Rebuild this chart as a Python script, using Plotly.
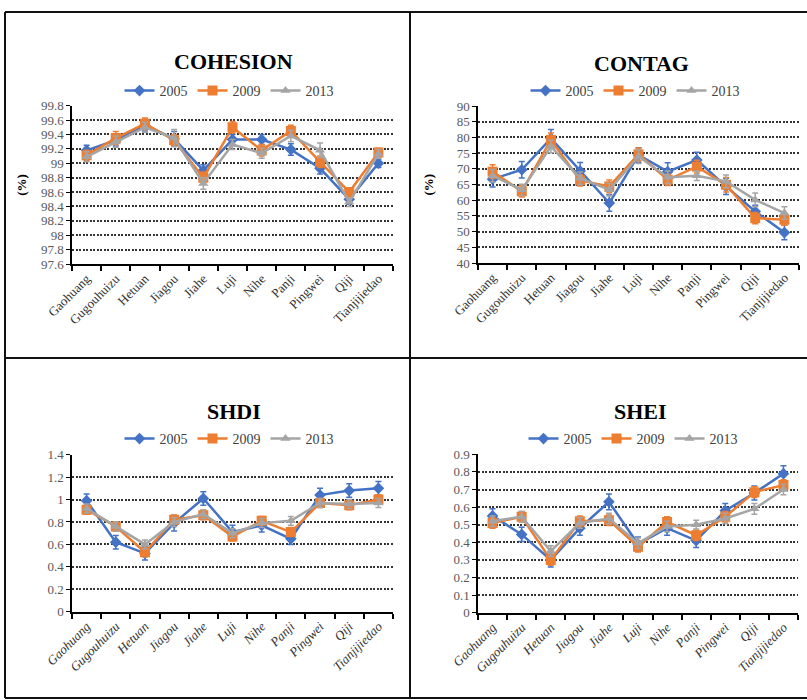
import plotly.graph_objects as go

W, H = 807, 700

sites = ["Gaohuang", "Gugouhuizu", "Hetuan", "Jiagou", "Jiahe", "Luji",
         "Nihe", "Panji", "Pingwei", "Qiji", "Tianjijiedao"]
years = ["2005", "2009", "2013"]

# COHESION (%)
cohesion_2005 = [99.18, 99.32, 99.53, 99.34, 98.90, 99.33, 99.33, 99.19, 98.93, 98.50, 99.00]
cohesion_2009 = [99.11, 99.35, 99.55, 99.32, 98.80, 99.50, 99.18, 99.45, 99.02, 98.60, 99.15]
cohesion_2013 = [99.09, 99.30, 99.50, 99.35, 98.72, 99.26, 99.14, 99.38, 99.18, 98.46, 99.13]
cohesion_err_2005 = [0.07, 0.08, 0.08, 0.10, 0.08, 0.07, 0.07, 0.08, 0.08, 0.07, 0.06]
cohesion_err_2009 = [0.07, 0.09, 0.08, 0.08, 0.08, 0.08, 0.08, 0.08, 0.08, 0.06, 0.06]
cohesion_err_2013 = [0.07, 0.08, 0.07, 0.12, 0.08, 0.07, 0.07, 0.08, 0.10, 0.06, 0.06]

# CONTAG (%)
contag_2005 = [66.7, 69.7, 79.7, 69.3, 59.1, 74.4, 69.1, 72.8, 64.4, 56.4, 49.7]
contag_2009 = [69.1, 62.8, 79.2, 66.3, 64.4, 74.6, 66.5, 70.7, 64.9, 54.3, 53.8]
contag_2013 = [67.8, 63.3, 77.1, 67.0, 63.3, 73.9, 67.3, 67.8, 66.0, 60.1, 55.9]
contag_err_2005 = [2.5, 2.6, 2.8, 2.7, 2.6, 2.3, 2.8, 2.5, 2.6, 2.0, 2.3]
contag_err_2009 = [2.2, 1.8, 2.2, 1.8, 2.0, 2.0, 1.8, 2.0, 2.3, 1.8, 1.8]
contag_err_2013 = [2.0, 1.8, 2.0, 2.0, 2.0, 2.2, 2.0, 1.5, 2.0, 2.2, 2.0]

# SHDI
shdi_2005 = [0.99, 0.62, 0.52, 0.79, 1.01, 0.71, 0.77, 0.65, 1.04, 1.08, 1.10]
shdi_2009 = [0.91, 0.76, 0.53, 0.82, 0.86, 0.67, 0.81, 0.71, 0.97, 0.95, 1.00]
shdi_2013 = [0.92, 0.76, 0.60, 0.80, 0.87, 0.70, 0.79, 0.81, 0.97, 0.96, 0.97]
shdi_err_2005 = [0.06, 0.06, 0.06, 0.07, 0.06, 0.06, 0.06, 0.05, 0.06, 0.06, 0.06]
shdi_err_2009 = [0.04, 0.04, 0.04, 0.04, 0.04, 0.04, 0.04, 0.04, 0.04, 0.04, 0.04]
shdi_err_2013 = [0.04, 0.04, 0.04, 0.04, 0.04, 0.04, 0.04, 0.04, 0.04, 0.04, 0.04]

# SHEI
shei_2005 = [0.55, 0.445, 0.30, 0.48, 0.63, 0.39, 0.48, 0.41, 0.58, 0.68, 0.79]
shei_2009 = [0.51, 0.545, 0.30, 0.52, 0.525, 0.375, 0.515, 0.44, 0.545, 0.685, 0.725]
shei_2013 = [0.52, 0.545, 0.35, 0.51, 0.535, 0.395, 0.49, 0.50, 0.535, 0.59, 0.70]
shei_err_2005 = [0.04, 0.04, 0.04, 0.04, 0.045, 0.04, 0.04, 0.04, 0.04, 0.04, 0.045]
shei_err_2009 = [0.03, 0.03, 0.03, 0.03, 0.03, 0.03, 0.03, 0.03, 0.03, 0.03, 0.03]
shei_err_2013 = [0.03, 0.03, 0.03, 0.03, 0.03, 0.03, 0.03, 0.025, 0.03, 0.03, 0.03]

colors = {"2005": "#4472C4", "2009": "#ED7D31", "2013": "#A5A5A5"}
symbols = {"2005": "diamond", "2009": "square", "2013": "triangle-up"}
sizes = {"2005": 9, "2009": 10, "2013": 9}

SERIF = "Liberation Serif"

# panel definitions: title, series, errors, y-range, dtick, pixel box (x0, x1, ytop, ybot)
panels = [
    dict(title="COHESION", vals=[cohesion_2005, cohesion_2009, cohesion_2013],
         errs=[cohesion_err_2005, cohesion_err_2009, cohesion_err_2013],
         yr=[97.6, 99.8], dt=0.2, box=(72, 393, 105.7, 264), ylab=True,
         title_xy=(233, 61), leg_xy=(229, 91), italic=False),
    dict(title="CONTAG", vals=[contag_2005, contag_2009, contag_2013],
         errs=[contag_err_2005, contag_err_2009, contag_err_2013],
         yr=[40, 90], dt=5, box=(478, 799, 106, 263), ylab=True,
         title_xy=(641, 64), leg_xy=(635, 91), italic=False),
    dict(title="SHDI", vals=[shdi_2005, shdi_2009, shdi_2013],
         errs=[shdi_err_2005, shdi_err_2009, shdi_err_2013],
         yr=[0, 1.4], dt=0.2, box=(72, 393, 454.7, 611.7), ylab=False,
         title_xy=(234, 412), leg_xy=(229, 439), italic=True),
    dict(title="SHEI", vals=[shei_2005, shei_2009, shei_2013],
         errs=[shei_err_2005, shei_err_2009, shei_err_2013],
         yr=[0, 0.9], dt=0.1, box=(478, 798, 454.3, 612.7), ylab=False,
         title_xy=(640, 412), leg_xy=(633, 439), italic=True),
]

fig = go.Figure()
annotations = []
layout_axes = {}

for i, p in enumerate(panels, start=1):
    xa = "x" if i == 1 else f"x{i}"
    ya = "y" if i == 1 else f"y{i}"
    leg = "legend" if i == 1 else f"legend{i}"
    for yr_name, v, e in zip(years, p["vals"], p["errs"]):
        fig.add_trace(go.Scatter(
            x=sites, y=v, name=yr_name, mode="lines+markers",
            xaxis=xa, yaxis=ya, legend=leg,
            line=dict(color=colors[yr_name], width=2.5),
            marker=dict(symbol=symbols[yr_name], size=sizes[yr_name],
                        color=colors[yr_name]),
            error_y=dict(type="data", array=e, visible=True,
                         color=colors[yr_name], thickness=1.5, width=3),
        ))
    x0, x1, yt, yb = p["box"]
    xkey = "xaxis" if i == 1 else f"xaxis{i}"
    ykey = "yaxis" if i == 1 else f"yaxis{i}"
    layout_axes[xkey] = dict(
        domain=[x0 / W, x1 / W], anchor=ya, type="category",
        range=[-0.5, len(sites) - 0.5], tickson="boundaries",
        ticks="outside", ticklen=5, tickwidth=1.5, tickcolor="#000",
        showline=True, linecolor="#000", linewidth=2, showgrid=False,
        tickangle=-45, automargin=False,
        tickfont=dict(family=SERIF, size=13, color="#333",
                      style="italic" if p["italic"] else "normal"),
    )
    layout_axes[ykey] = dict(
        domain=[1 - yb / H, 1 - yt / H], anchor=xa, range=p["yr"],
        dtick=p["dt"], tick0=p["yr"][0], ticks="outside", ticklen=4,
        tickcolor="#000", showline=True, linecolor="#000", linewidth=1.5,
        showgrid=True, gridcolor="#333", gridwidth=1.6, griddash="2px,1.5px",
        zeroline=False, automargin=False,
        tickfont=dict(family=SERIF, size=13, color="#595959"),
    )
    tx, ty = p["title_xy"]
    annotations.append(dict(
        text=f"<b>{p['title']}</b>", x=tx / W, y=1 - ty / H, xref="paper",
        yref="paper", showarrow=False, xanchor="center", yanchor="middle",
        font=dict(family=SERIF, size=22, color="#000"),
    ))
    if p["ylab"]:
        annotations.append(dict(
            text="<b>(%)</b>", x=(x0 - 50) / W, y=1 - ((yt + yb) / 2) / H,
            xref="paper", yref="paper", showarrow=False, textangle=-90,
            xanchor="center", yanchor="middle",
            font=dict(family=SERIF, size=13, color="#000"),
        ))
    lx, ly = p["leg_xy"]
    layout_axes[leg] = dict(
        orientation="h", x=lx / W, y=1 - ly / H, xanchor="center",
        yanchor="middle", bgcolor="rgba(0,0,0,0)", itemwidth=30,
        font=dict(family=SERIF, size=14, color="#404040"),
        tracegroupgap=0,
    )

# panel frame lines
frame = dict(type="line", xref="paper", yref="paper",
             line=dict(color="#111", width=2))
shapes = [
    dict(frame, x0=5 / W, x1=1, y0=1 - 12 / H, y1=1 - 12 / H),
    dict(frame, x0=5 / W, x1=5 / W, y0=1 - 12 / H, y1=1 - 698 / H),
    dict(frame, x0=410 / W, x1=410 / W, y0=1 - 12 / H, y1=1 - 698 / H),
    dict(frame, x0=5 / W, x1=1, y0=1 - 358 / H, y1=1 - 358 / H),
    dict(frame, x0=5 / W, x1=1, y0=1 - 698 / H, y1=1 - 698 / H),
]

fig.update_layout(
    width=W, height=H, margin=dict(l=0, r=0, t=0, b=0),
    paper_bgcolor="white", plot_bgcolor="white",
    font=dict(family=SERIF),
    annotations=annotations, shapes=shapes, showlegend=True,
    **layout_axes,
)

fig.write_html("out.html")
